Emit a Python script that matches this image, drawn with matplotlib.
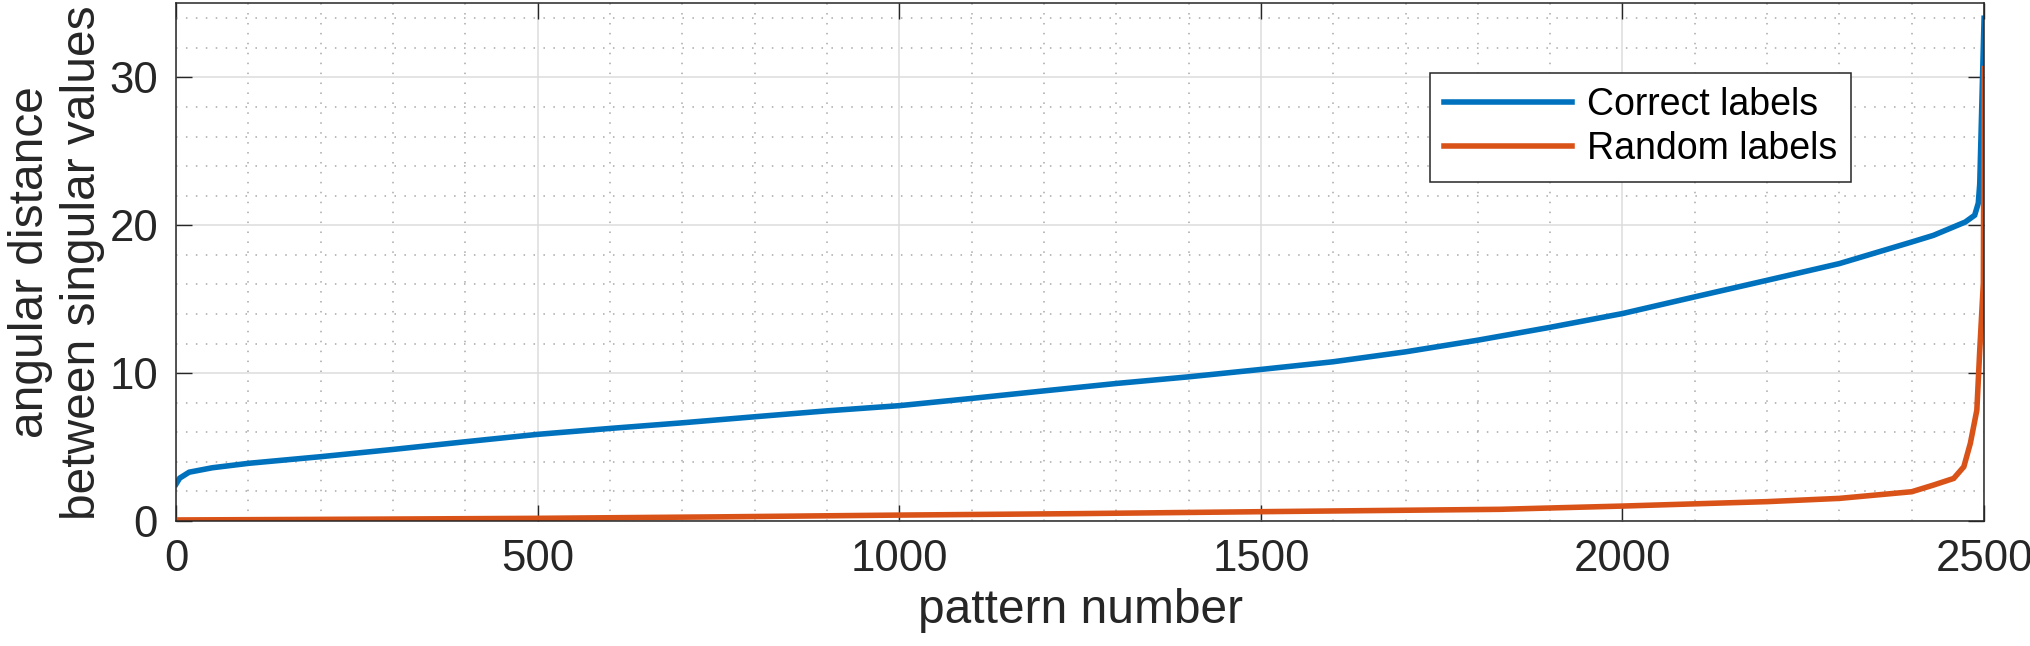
import matplotlib
matplotlib.use('Agg')
import matplotlib.pyplot as plt
from matplotlib.ticker import MultipleLocator

plt.rcParams['font.family'] = ['Liberation Sans', 'DejaVu Sans']

# values (sorted angular distances)
correct_x = [0, 5, 18, 50, 100, 200, 300, 400, 500, 600, 700, 800, 900,
             1000, 1100, 1200, 1300, 1400, 1500, 1600, 1700, 1800, 1900,
             2000, 2100, 2200, 2300, 2400, 2430, 2474, 2487, 2492, 2494,
             2500]
correct_y = [2.5, 2.9, 3.3, 3.6, 3.9, 4.35, 4.84, 5.36, 5.86, 6.26, 6.64,
             7.05, 7.45, 7.8, 8.29, 8.8, 9.3, 9.75, 10.25, 10.77, 11.44,
             12.23, 13.1, 14.03, 15.16, 16.28, 17.41, 18.87, 19.32, 20.22,
             20.68, 21.5, 22.8, 34.0]

random_x = [0, 250, 500, 750, 1000, 1250, 1500, 1831, 2000, 2200, 2300,
            2400, 2430, 2458, 2472, 2481, 2490, 2494, 2499, 2500]
random_y = [0.07, 0.12, 0.18, 0.28, 0.4, 0.5, 0.63, 0.79, 1.01, 1.31, 1.53,
            1.98, 2.43, 2.88, 3.67, 5.25, 7.5, 11.55, 16.1, 30.6]

series_names = ['Correct labels', 'Random labels']
x_ticks = [0, 500, 1000, 1500, 2000, 2500]
y_ticks = [0, 10, 20, 30]

blue = '#0072BD'
orange = '#D95319'
dark = '#262626'

fig = plt.figure(figsize=(20.31, 6.46), dpi=100)
ax = fig.add_axes([0.0867, 0.1935, 0.8902, 0.8011])

ax.plot(correct_x, correct_y, color=blue, lw=4.0, label=series_names[0],
        solid_joinstyle='miter')
ax.plot(random_x, random_y, color=orange, lw=4.0, label=series_names[1],
        solid_joinstyle='miter')

ax.set_xlim(0, 2500)
ax.set_ylim(0, 35)
ax.set_xticks(x_ticks)
ax.set_yticks(y_ticks)
ax.xaxis.set_minor_locator(MultipleLocator(100))
ax.yaxis.set_minor_locator(MultipleLocator(2))

# matlab style grid
ax.set_axisbelow(True)
ax.grid(which='major', color='#dcdcdc', lw=1.1, ls='-')
ax.grid(which='minor', color='#a8a8a8', lw=1.1, ls=(0, (1, 5.5)))

ax.tick_params(which='major', direction='in', length=11.5, width=1.0,
               color=dark, labelcolor=dark, labelsize=31.5, pad=13,
               top=True, right=True)
ax.tick_params(which='minor', length=0, top=True, right=True)
for s in ax.spines.values():
    s.set_color(dark)
    s.set_linewidth(1.1)

ax.set_xlabel('pattern number', fontsize=34.5, color=dark, labelpad=6)
ax.set_ylabel('angular distance\nbetween singular values', fontsize=34.5,
              color=dark, linespacing=1.2)
ax.yaxis.set_label_coords(-0.0395, 0.5)

leg = ax.legend(loc='upper left', bbox_to_anchor=(0.6936, 0.866),
                borderaxespad=0, fontsize=27, handlelength=3.4,
                handletextpad=0.4, labelspacing=0.22, borderpad=0.38,
                fancybox=False, framealpha=1)
leg.get_frame().set_edgecolor(dark)
leg.get_frame().set_linewidth(1.1)

fig.savefig('out.png', dpi=100)
